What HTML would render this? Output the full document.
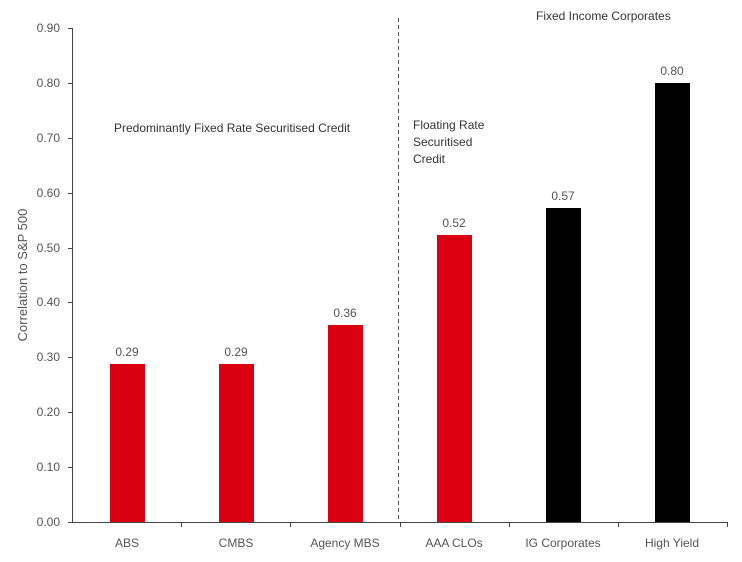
<!DOCTYPE html>
<html><head><style>body{margin:0;background:#fff}svg{display:block}text{font-family:"Liberation Sans",sans-serif}</style></head>
<body>
<svg width="742" height="562" viewBox="0 0 742 562">
<g fill="#555" font-size="12" text-anchor="end">
<text x="60" y="32">0.90</text><text x="60" y="87">0.80</text><text x="60" y="142">0.70</text>
<text x="60" y="197">0.60</text><text x="60" y="252">0.50</text><text x="60" y="306">0.40</text>
<text x="60" y="361">0.30</text><text x="60" y="416">0.20</text><text x="60" y="471">0.10</text>
<text x="60" y="526">0.00</text>
</g>
<text transform="translate(27,275) rotate(-90)" text-anchor="middle" font-size="13" fill="#555">Correlation to S&amp;P 500</text>
<g stroke="#444" stroke-width="1">
<line x1="72.5" y1="28" x2="72.5" y2="522"/>
<line x1="68" y1="522.5" x2="728" y2="522.5"/>
<line x1="68" y1="28.5" x2="72" y2="28.5"/><line x1="68" y1="83.5" x2="72" y2="83.5"/><line x1="68" y1="138.5" x2="72" y2="138.5"/><line x1="68" y1="193.5" x2="72" y2="193.5"/><line x1="68" y1="248.5" x2="72" y2="248.5"/><line x1="68" y1="302.5" x2="72" y2="302.5"/><line x1="68" y1="357.5" x2="72" y2="357.5"/><line x1="68" y1="412.5" x2="72" y2="412.5"/><line x1="68" y1="467.5" x2="72" y2="467.5"/>
<line x1="181.5" y1="522" x2="181.5" y2="527"/><line x1="290.5" y1="522" x2="290.5" y2="527"/><line x1="400.5" y1="522" x2="400.5" y2="527"/><line x1="509.5" y1="522" x2="509.5" y2="527"/><line x1="618.5" y1="522" x2="618.5" y2="527"/><line x1="727.5" y1="522" x2="727.5" y2="527"/>
</g>
<line x1="398.5" y1="18" x2="398.5" y2="522" stroke="#555" stroke-dasharray="4,3"/>
<rect x="110" y="364" width="35" height="158" fill="#db0011"/>
<rect x="219" y="364" width="35" height="158" fill="#db0011"/>
<rect x="328" y="325" width="35" height="197" fill="#db0011"/>
<rect x="437" y="235" width="35" height="287" fill="#db0011"/>
<rect x="546" y="208" width="35" height="314" fill="#000"/>
<rect x="655" y="83" width="35" height="439" fill="#000"/>
<g fill="#555" font-size="12" text-anchor="middle">
<text x="127" y="356">0.29</text><text x="236" y="356">0.29</text><text x="345" y="317">0.36</text>
<text x="454" y="227">0.52</text><text x="563" y="200">0.57</text><text x="672" y="75">0.80</text>
<text x="127" y="547">ABS</text><text x="236" y="547">CMBS</text><text x="345" y="547">Agency MBS</text>
<text x="454" y="547">AAA CLOs</text><text x="563" y="547">IG Corporates</text><text x="672" y="547">High Yield</text>
</g>
<g fill="#333" font-size="12">
<text x="114" y="132">Predominantly Fixed Rate Securitised Credit</text>
<text x="413" y="129">Floating Rate</text><text x="413" y="146">Securitised</text><text x="413" y="163">Credit</text>
<text x="536" y="20">Fixed Income Corporates</text>
</g>
</svg>
</body></html>
